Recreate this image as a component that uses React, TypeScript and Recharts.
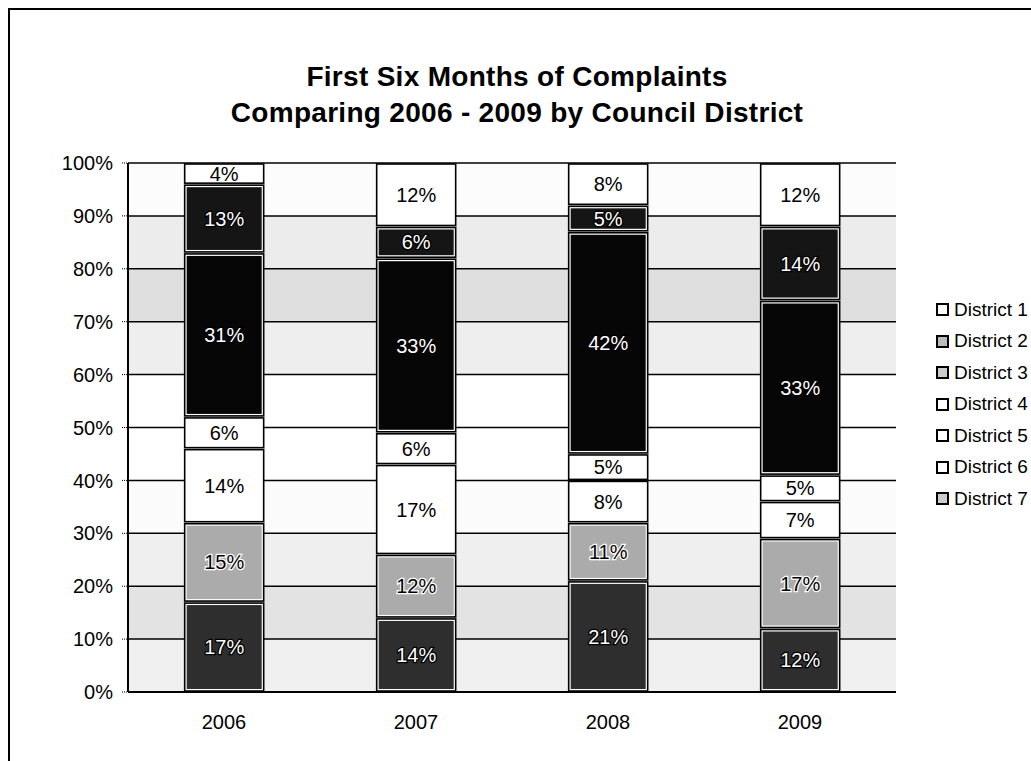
import React from 'react';
import { BarChart, Bar, XAxis, YAxis, CartesianGrid, LabelList } from 'recharts';

const years = ['2006', '2007', '2008', '2009'];

// stacked bottom to top: District 7 ... District 1 (percent of complaints)
const district7 = [17, 14, 21, 12];
const district6 = [15, 12, 11, 17];
const district5 = [14, 17, 8, 7];
const district4 = [6, 6, 5, 5];
const district3 = [31, 33, 42, 33];
const district2 = [13, 6, 5, 14];
const district1 = [4, 12, 8, 12];

const yTicks = [0, 10, 20, 30, 40, 50, 60, 70, 80, 90, 100];

const legendNames = ['District 1', 'District 2', 'District 3', 'District 4', 'District 5', 'District 6', 'District 7'];

const FONT = '"Liberation Sans", Arial, sans-serif';

const series = [
  { key: 'd7', name: 'District 7', values: district7, fill: '#2e2e2e', dark: true },
  { key: 'd6', name: 'District 6', values: district6, fill: '#ababab', dark: false },
  { key: 'd5', name: 'District 5', values: district5, fill: '#ffffff', dark: false },
  { key: 'd4', name: 'District 4', values: district4, fill: '#ffffff', dark: false },
  { key: 'd3', name: 'District 3', values: district3, fill: '#060606', dark: true },
  { key: 'd2', name: 'District 2', values: district2, fill: '#151515', dark: true },
  { key: 'd1', name: 'District 1', values: district1, fill: '#ffffff', dark: false },
];

const chartData = years.map((year, i) => {
  const row: Record<string, string | number> = { year };
  series.forEach((s) => {
    row[s.key] = s.values[i];
  });
  return row;
});

// light dithered bands of the plot background, top band first
const bandFills = ['#fcfcfc', '#ececec', '#dfdfdf', '#eeeeee', '#ffffff', '#ffffff', '#fbfbfb', '#efefef', '#e3e3e3', '#f0f0f0'];

const SegmentShape = (props: any) => {
  const { x, y, width, height, fill } = props;
  if (!height || height <= 0) return null;
  const inset = 3;
  return (
    <g>
      <rect x={x + 1} y={y + 1} width={width - 2} height={height - 2} fill="#fff" stroke="#000" strokeWidth={1.6} />
      {fill !== '#ffffff' && (
        <rect x={x + inset} y={y + inset} width={width - inset * 2} height={Math.max(height - inset * 2, 0)} fill={fill} />
      )}
    </g>
  );
};

const legendMarker: Record<string, string> = {
  'District 1': '#ffffff',
  'District 2': '#bbbbbb',
  'District 3': '#cccccc',
  'District 4': '#ffffff',
  'District 5': '#ffffff',
  'District 6': '#ffffff',
  'District 7': '#cccccc',
};

export default function App() {
  return (
    <div style={{ position: 'relative', width: 1031, height: 761, overflow: 'hidden', fontFamily: FONT, background: '#fff' }}>
      <style>{'body{margin:0;overflow:hidden;}'}</style>
      <div style={{ position: 'absolute', left: 8, top: 8, width: 1023, height: 753 }}>
        <div
          style={{
            position: 'absolute',
            left: 0,
            top: 0,
            width: 1030,
            height: 760,
            borderLeft: '2px solid #000',
            borderTop: '2px solid #000',
            boxSizing: 'border-box',
          }}
        />
        <div
          style={{
            position: 'absolute',
            left: 0,
            top: 51,
            width: 1018,
            textAlign: 'center',
            fontWeight: 'bold',
            fontSize: 28,
            letterSpacing: 0.3,
            lineHeight: '36px',
            color: '#000',
          }}
        >
          <div>First Six Months of Complaints</div>
          <div>Comparing 2006 - 2009 by Council District</div>
        </div>

        <div style={{ position: 'absolute', left: 0, top: 0 }}>
          <BarChart
            width={1023}
            height={753}
            data={chartData}
            margin={{ top: 155, right: 135, left: 60, bottom: 29 }}
            barCategoryGap="29%"
          >
            <CartesianGrid
              vertical={false}
              stroke="#000"
              strokeWidth={1.5}
              horizontalFill={bandFills}
              fillOpacity={1}
            />
            <XAxis
              dataKey="year"
              height={40}
              tickLine={false}
              tickSize={0}
              tickMargin={23}
              axisLine={{ stroke: '#000', strokeWidth: 2 }}
              tick={{ fill: '#000', fontSize: 20, fontFamily: FONT }}
            />
            <YAxis
              width={60}
              domain={[0, 100]}
              ticks={yTicks}
              interval={0}
              tickFormatter={(v) => `${v}%`}
              tickSize={6}
              tickMargin={9}
              tickLine={{ stroke: '#000', strokeDasharray: '1 1' }}
              axisLine={{ stroke: '#000', strokeWidth: 2 }}
              tick={{ fill: '#000', fontSize: 20, fontFamily: FONT }}
            />
            <YAxis
              yAxisId="right"
              orientation="right"
              width={0}
              domain={[0, 100]}
              tick={false}
              tickLine={false}
              axisLine={{ stroke: '#000', strokeWidth: 2 }}
            />
            {series.map((s) => (
              <Bar
                key={s.key}
                dataKey={s.key}
                name={s.name}
                stackId="a"
                fill={s.fill}
                shape={<SegmentShape />}
                isAnimationActive={false}
              >
                <LabelList
                  dataKey={s.key}
                  position="center"
                  formatter={(v: any) => `${v}%`}
                  style={{
                    fontSize: 20,
                    fontFamily: FONT,
                    fill: s.dark ? '#fff' : '#000',
                    stroke: s.dark ? '#000' : s.fill === '#ffffff' ? 'none' : '#fff',
                    strokeWidth: 2.5,
                    paintOrder: 'stroke',
                  }}
                />
              </Bar>
            ))}
          </BarChart>
        </div>

        <div style={{ position: 'absolute', left: 928, top: 286, fontSize: 19, color: '#000' }}>
          {legendNames.map((n) => (
            <div key={n} style={{ display: 'flex', alignItems: 'center', height: 31.5 }}>
              <span
                style={{
                  display: 'inline-block',
                  width: 9,
                  height: 9,
                  border: '2px solid #000',
                  background: legendMarker[n],
                  marginRight: 5,
                }}
              />
              <span style={{ whiteSpace: 'nowrap' }}>{n}</span>
            </div>
          ))}
        </div>
      </div>
    </div>
  );
}
